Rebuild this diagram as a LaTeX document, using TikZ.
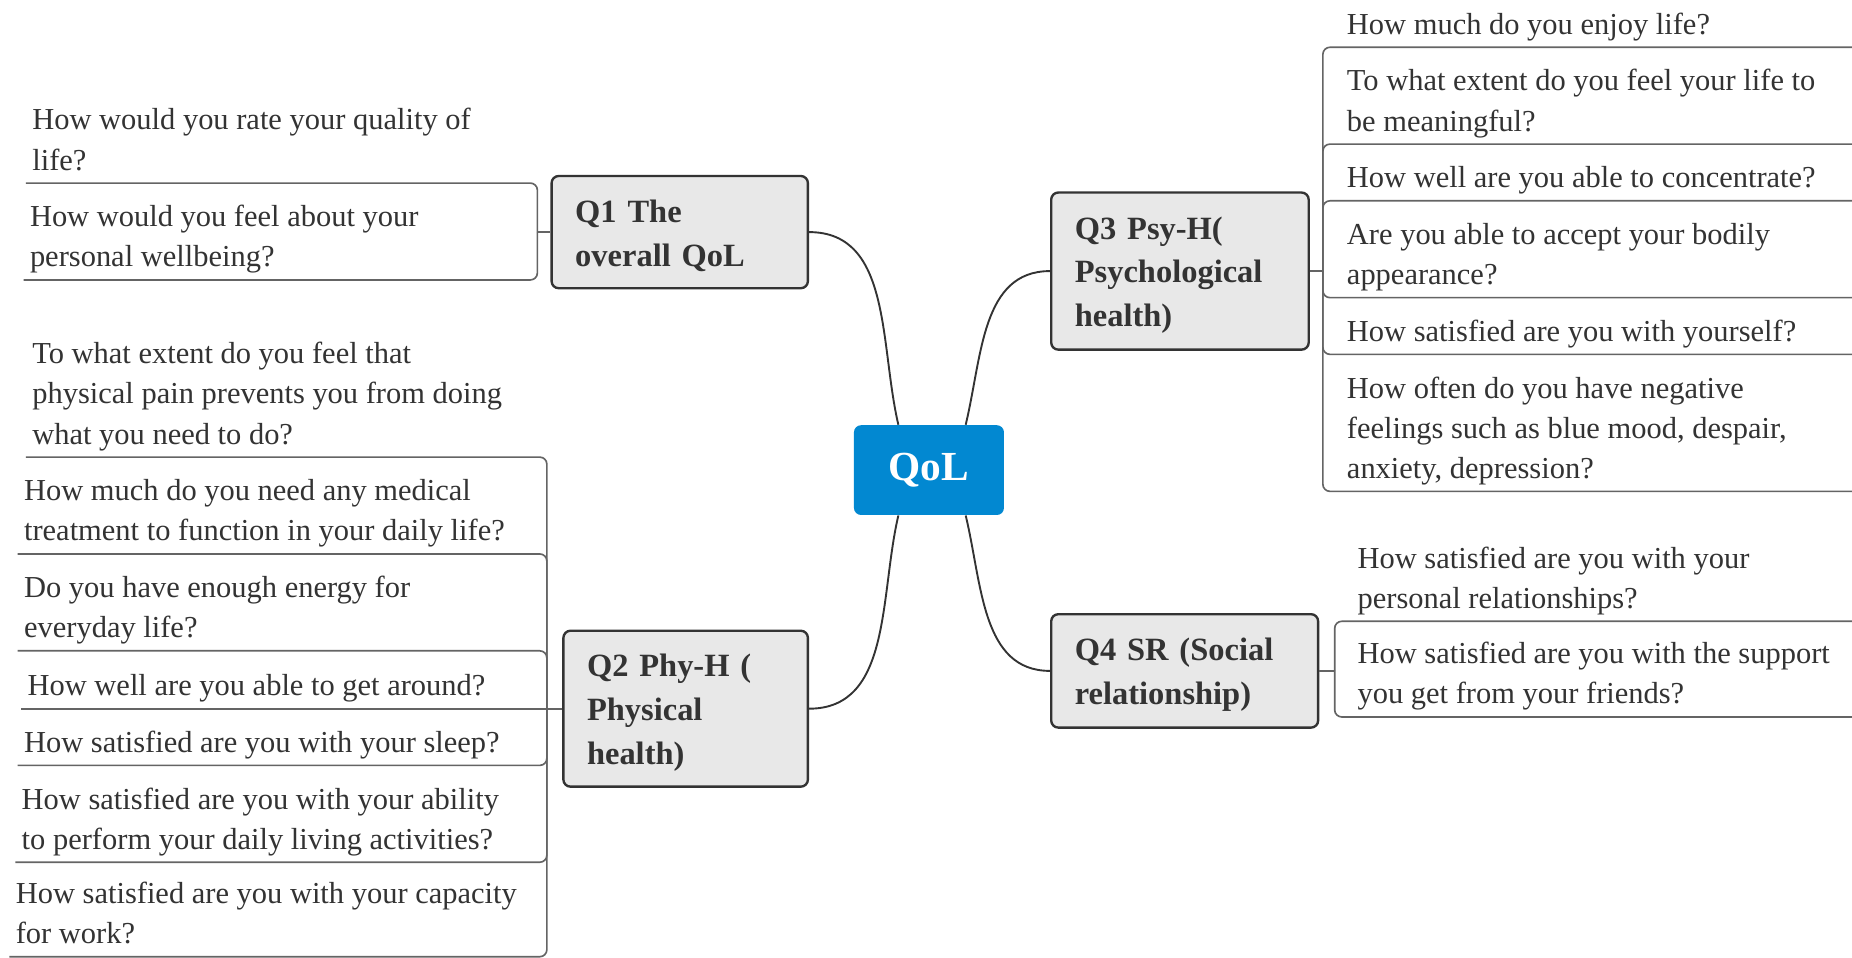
\documentclass[tikz,border=0pt]{standalone}
\usepackage{fontspec}
\setmainfont{Liberation Serif}

\definecolor{qolblue}{RGB}{2,136,209}
\definecolor{topicgrey}{RGB}{232,232,232}
\definecolor{inkgrey}{RGB}{51,51,51}
\definecolor{linegrey}{RGB}{100,100,100}

\def\leaffont{\fontsize{12.9}{17}\selectfont}
\def\topicfont{\fontsize{13.75}{18.5}\selectfont\bfseries}

\begin{document}
\begin{tikzpicture}[x=0.5pt, y=-0.5pt]
    \tikzstyle{root}=[rectangle, rounded corners=3pt, fill=qolblue, text=white, font=\fontsize{17.5}{20}\selectfont\bfseries, minimum width=63.5pt, minimum height=38pt]
    \tikzstyle{topic}=[rectangle, rounded corners=3pt, draw=inkgrey, line width=1pt, fill=topicgrey, text=inkgrey, font=\topicfont, align=left, inner xsep=10pt, execute at begin node=\strut]
    \tikzstyle{leaf}=[anchor=south west, inner xsep=2.5pt, inner ysep=0.2pt, align=left, text=inkgrey, font=\leaffont, execute at end node=\strut]
    \tikzstyle{branch}=[draw=linegrey, line width=0.7pt, rounded corners=3pt]
    \tikzstyle{trunk}=[draw=inkgrey, line width=0.8pt]

    \path[use as bounding box, fill=white] (0,0) rectangle (1568,811);

    % Draw the central node
    \node[root] (QoL) at (786.5,398) {QoL};

    % Draw the question groups
    \node[topic, text width=88.5pt, minimum height=47.5pt] (Q1) at (575.5,196.5) {Q1 The\\overall QoL};
    \node[topic, text width=83.5pt, minimum height=66pt] (Q2) at (580.5,600) {Q2 Phy-H (\\Physical\\health)};
    \node[topic, text width=89pt, minimum height=66.5pt] (Q3) at (999,229.5) {Q3 Psy-H(\\Psychological\\health)};
    \node[topic, text width=93pt, minimum height=48pt] (Q4) at (1003,568) {Q4 SR (Social\\relationship)};

    % Junctions and the right rim
    \coordinate (J-1) at (455,196.5);
    \coordinate (J-2) at (463,600);
    \coordinate (J-3) at (1120,229.5);
    \coordinate (J-4) at (1130,568);
    \coordinate (rim) at (1574,0);

    % Draw the questions of Q1
    \node[leaf] (Q1-1) at (22,155) {How would you rate your quality of\\life?};
    \node[leaf] (Q1-2) at (20,237) {How would you feel about your\\personal wellbeing?};

    % Draw the questions of Q2
    \node[leaf] (Q2-1) at (22,387) {To what extent do you feel that\\physical pain prevents you from doing\\what you need to do?};
    \node[leaf] (Q2-2) at (15,469) {How much do you need any medical\\treatment to function in your daily life?};
    \node[leaf] (Q2-3) at (15,551) {Do you have enough energy for\\everyday life?};
    \node[leaf] (Q2-4) at (18,600) {How well are you able to get around?};
    \node[leaf] (Q2-5) at (15,648) {How satisfied are you with your sleep?};
    \node[leaf] (Q2-6) at (13,730) {How satisfied are you with your ability\\to perform your daily living activities?};
    \node[leaf] (Q2-7) at (8,810) {How satisfied are you with your capacity\\for work?};

    % Draw the questions of Q3
    \node[leaf] (Q3-1) at (1135,40) {How much do you enjoy life?};
    \node[leaf] (Q3-2) at (1135,122) {To what extent do you feel your life to\\be meaningful?};
    \node[leaf] (Q3-3) at (1135,170) {How well are you able to concentrate?};
    \node[leaf] (Q3-4) at (1135,252) {Are you able to accept your bodily\\appearance?};
    \node[leaf] (Q3-5) at (1135,300) {How satisfied are you with yourself?};
    \node[leaf] (Q3-6) at (1135,416) {How often do you have negative\\feelings such as blue mood, despair,\\anxiety, depression?};

    % Draw the questions of Q4
    \node[leaf] (Q4-1) at (1144,526) {How satisfied are you with your\\personal relationships?};
    \node[leaf] (Q4-2) at (1144,607) {How satisfied are you with the support\\you get from your friends?};

    % Connect the central node with every question group
    \draw[trunk] (QoL.124) .. controls +(-16,-68) and +(70,0) .. (Q1.east);
    \draw[trunk] (QoL.-124) .. controls +(-16,68) and +(70,0) .. (Q2.east);
    \draw[trunk] (QoL.51) .. controls +(14,-58) and +(-58,0) .. (Q3.west);
    \draw[trunk] (QoL.-51) .. controls +(14,58) and +(-58,0) .. (Q4.west);

    % Connect every group with its questions
    \draw[branch] (Q1.west) -- (J-1);
    \foreach \q in {1,2}
        \draw[branch] (J-1) |- (Q1-\q.south west);
    \draw[branch] (Q2.west) -- (J-2) -- (Q2-4.south west);
    \foreach \q in {1,2,3,5,6,7}
        \draw[branch] (J-2) |- (Q2-\q.south west);
    \draw[branch] (Q3.east) -- (J-3);
    \foreach \q in {1,...,6}
        \draw[branch] (J-3) |- (Q3-\q.south west -| rim);
    \draw[branch] (Q4.east) -- (J-4);
    \foreach \q in {1,2}
        \draw[branch] (J-4) |- (Q4-\q.south west -| rim);
\end{tikzpicture}
\end{document}
